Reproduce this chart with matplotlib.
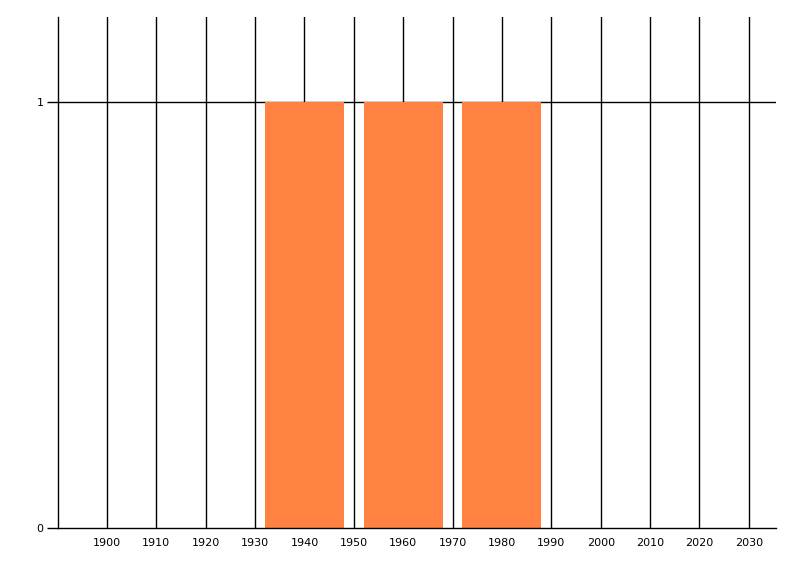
import matplotlib
matplotlib.use('Agg')
import matplotlib.pyplot as plt

# Data
years = [1940, 1960, 1980]
values = [1, 1, 1]
x_ticks = list(range(1900, 2031, 10))
y_ticks = [0, 1]

fig = plt.figure(figsize=(8, 5.76), dpi=100)
ax = fig.add_axes([0.072, 0.0833, 0.898, 0.8872])

# Gridlines behind bars
for t in x_ticks:
    ax.axvline(t, color='black', linewidth=1, zorder=1)
ax.axhline(1, color='black', linewidth=1, zorder=1)

# Bars
ax.bar(years, values, width=16, color='#FF8243', zorder=2)

ax.set_xlim(1890, 2035.5)
ax.set_ylim(0, 1.2)

ax.set_xticks(x_ticks)
ax.set_xticklabels([str(t) for t in x_ticks])
ax.set_yticks(y_ticks)
ax.set_yticklabels([str(t) for t in y_ticks])

ax.spines['top'].set_visible(False)
ax.spines['right'].set_visible(False)
ax.spines['left'].set_linewidth(1)
ax.spines['bottom'].set_linewidth(1)
ax.spines['left'].set_zorder(3)
ax.spines['bottom'].set_zorder(3)

ax.tick_params(axis='x', length=0, pad=7, labelsize=8)
ax.tick_params(axis='y', length=8, width=1, pad=2, labelsize=8)

plt.savefig('out.png', dpi=100)
